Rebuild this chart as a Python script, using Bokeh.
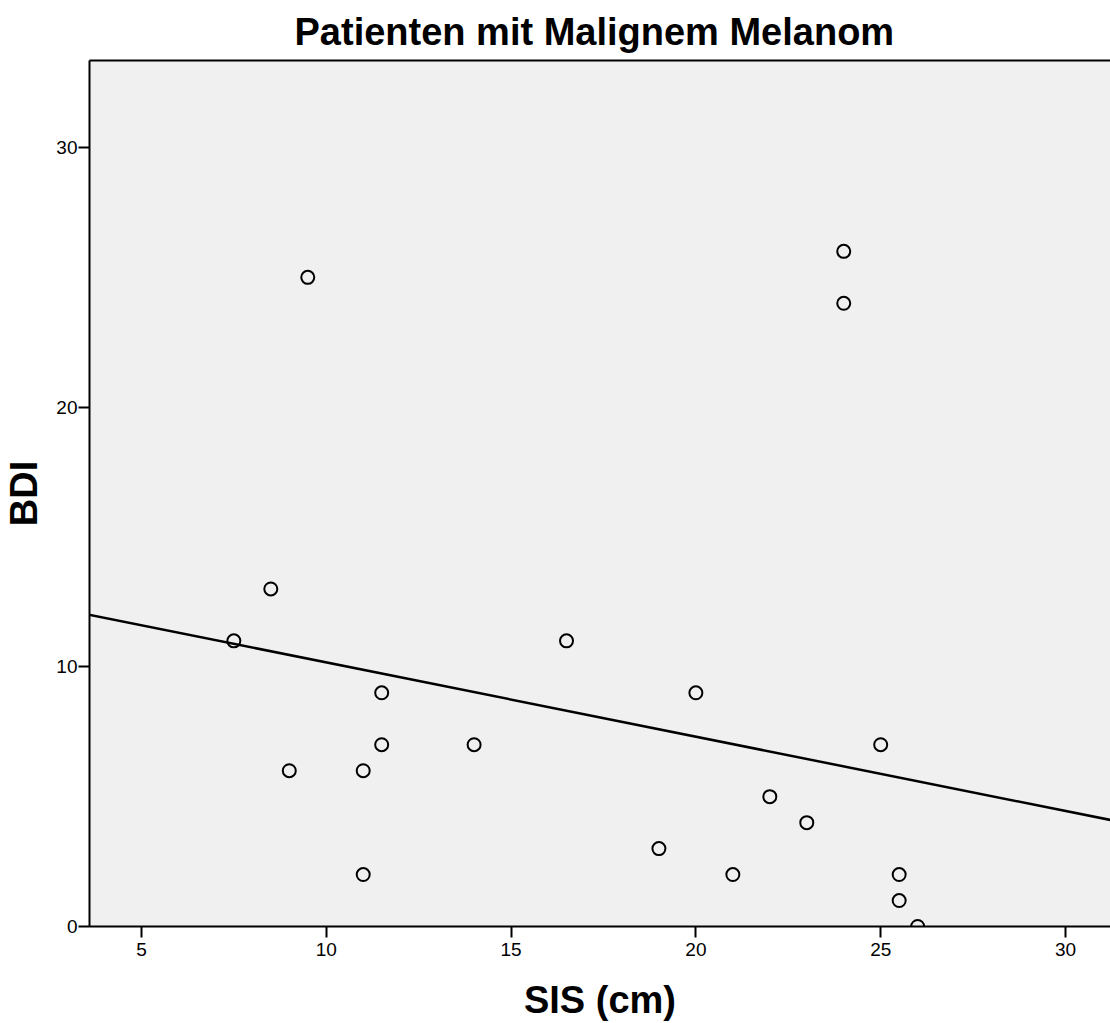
from bokeh.plotting import figure
from bokeh.models import Range1d, Slope, FixedTicker, LinearAxis
from bokeh.embed import file_html
from bokeh.resources import INLINE

# Data
sis_cm = [7.5, 8.5, 9.0, 9.5, 11.0, 11.0, 11.5, 11.5, 14.0, 16.5, 19.0, 20.0,
          21.0, 22.0, 23.0, 24.0, 24.0, 25.0, 25.5, 25.5, 26.0]
bdi = [11, 13, 6, 25, 6, 2, 9, 7, 7, 11, 3, 9,
       2, 5, 4, 26, 24, 7, 2, 1, 0]
x_ticks = [5, 10, 15, 20, 25, 30]
y_ticks = [0, 10, 20, 30]
fit_intercept = 13.03
fit_slope = -0.286

FONT = "Liberation Sans"

p = figure(width=1110, height=1023, output_backend="svg", toolbar_location=None,
           x_range=Range1d(3.595, 31.217), y_range=Range1d(0, 33.35),
           min_border_left=88, min_border_right=0, min_border_top=60, min_border_bottom=96,
           title="Patienten mit Malignem Melanom")

p.background_fill_color = "#f0f0f0"
p.border_fill_color = "white"
p.outline_line_color = None
p.grid.visible = False

p.title.align = "left"
p.title.offset = 205
p.title.text_font = FONT
p.title.text_font_size = "38px"
p.title.text_font_style = "bold"
p.title.text_color = "black"
p.title.standoff = 16

xax = p.below[0]
yax = p.left[0]

for ax in (xax, yax):
    ax.axis_line_color = "black"
    ax.axis_line_width = 2
    ax.major_tick_line_color = "black"
    ax.major_tick_line_width = 2
    ax.major_tick_in = 0
    ax.major_tick_out = 11
    ax.minor_tick_line_color = None
    ax.major_label_text_font = FONT
    ax.major_label_text_font_size = "19px"
    ax.major_label_text_color = "black"
    ax.axis_label_text_font = FONT
    ax.axis_label_text_font_size = "38px"
    ax.axis_label_text_font_style = "bold"
    ax.axis_label_text_color = "black"

xax.ticker = FixedTicker(ticks=x_ticks)
yax.ticker = FixedTicker(ticks=y_ticks)
xax.major_label_standoff = 5
yax.major_label_standoff = 1
xax.axis_label = "SIS (cm)"
yax.axis_label = "BDI"
xax.axis_label_standoff = 20
yax.axis_label_standoff = 8

# top border line only (no right border in the original)
top = LinearAxis(ticker=FixedTicker(ticks=[]), major_tick_out=0, major_tick_in=0,
                 major_label_standoff=0, major_label_text_font_size="0px",
                 axis_line_color="black", axis_line_width=2,
                 minor_tick_line_color=None, major_tick_line_color=None)
p.add_layout(top, "above")

p.add_layout(Slope(gradient=fit_slope, y_intercept=fit_intercept,
                   line_color="black", line_width=2.5))

p.scatter(x=sis_cm, y=bdi, marker="circle", size=13, fill_color=None,
          line_color="black", line_width=2)

open("out.html", "w").write(file_html(p, INLINE))
